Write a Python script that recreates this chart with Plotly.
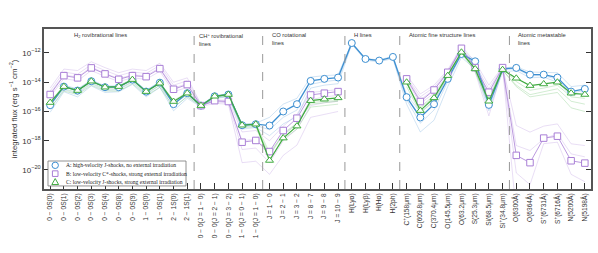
import plotly.graph_objects as go

# ---------------- data ----------------
h2_labels = ["0 − 0S(0)", "0 − 0S(1)", "0 − 0S(2)", "0 − 0S(3)", "0 − 0S(4)", "0 − 0S(8)",
             "0 − 0S(9)", "1 − 0S(0)", "1 − 0S(1)", "2 − 1S(0)", "2 − 1S(1)"]
chp_labels = ["0 − 0(J = 1 − 0)", "0 − 0(J = 2 − 1)", "0 − 0(J = 3 − 2)",
              "1 − 0(J = 0 − 1)", "1 − 0(J = 1 − 0)"]
co_labels = ["J = 1 − 0", "J = 2 − 1", "J = 3 − 2", "J = 8 − 7", "J = 9 − 8", "J = 10 − 9"]
h_labels = ["H(Lyα)", "H(Lyβ)", "H(Hα)", "H(2ph)"]
fs_labels = ["C<sup>+</sup>(158μm)", "C(609.8μm)", "C(370.4μm)", "O(145.5μm)", "O(63.2μm)",
             "S(25.3μm)", "Si(68.5μm)", "Si<sup>+</sup>(34.8μm)"]
ms_labels = ["O(6300Å)", "O(6364Å)", "S<sup>+</sup>(6731Å)", "S<sup>+</sup>(6716Å)",
             "N(5200Å)", "N(5198Å)"]

section_titles = ["H<sub>2</sub> rovibrational lines", "CH<sup>+</sup> rovibrational<br>lines",
                  "CO rotational<br>lines", "H lines", "Atomic fine structure lines",
                  "Atomic metastable<br>lines"]

N = None
# log10 of integrated flux (erg s^-1 cm^-2)
model_A = [-15.57, -14.3, -14.57, -13.93, -14.34, -14.34, -13.82, -14.64, -14.03, -15.5, -14.75,
           -15.6, -14.96, -14.84, -16.94, -16.87,
           -16.96, -16.0, -15.5, -13.91, -13.77, -13.68,
           -11.32, -12.41, -12.52, -12.27,
           -15.02, -16.41, -15.5, -13.77, -12.07, -12.57, -15.55, -13.09,
           -13.02, -13.48, -13.48, -13.68, -14.64, -14.46]
model_B = [-14.84, -13.55, -13.7, -13.02, -13.43, -13.8, -13.55, -13.62, -13.07, -14.48, -14.16,
           -15.6, -15.26, -15.32, -18.1, -17.98,
           -18.74, -17.3, -16.46, -14.87, -14.75, -14.64,
           N, N, N, N,
           -13.77, -15.32, -14.53, -13.32, -11.68, -13.0, -14.68, -13.0,
           -19.0, -19.5, -17.82, -17.69, -19.37, -19.53]
model_C = [-15.39, -14.3, -14.57, -13.93, -14.34, -14.3, -13.82, -14.64, -14.07, -15.32, -14.75,
           -15.6, -14.96, -14.84, -16.94, -16.87,
           -19.35, -17.82, -17.0, -15.26, -15.16, -15.07,
           N, N, N, N,
           -14.0, -15.94, -15.07, -13.55, -11.95, -13.09, -15.3, -13.14,
           -13.73, -14.23, -14.12, -14.0, -14.75, -14.84]

# fainter grid-model variants of each family
var_A1 = [-15.45, -14.2, -14.45, -13.85, -14.25, -14.25, -13.75, -14.55, -13.95, -15.35, -14.65,
          -15.55, -14.9, -14.8, -16.85, -16.8,
          -16.4, -15.5, -15.1, -13.65, -13.55, -13.5,
          -11.3, -12.38, -12.48, -12.22,
          -14.85, -16.05, -15.25, -13.65, -11.98, -12.45, -15.15, -13.02,
          -12.95, -13.3, -13.3, -13.35, -14.3, -14.2]
var_A2 = [-15.85, -14.5, -14.8, -14.1, -14.55, -14.5, -14.0, -14.85, -14.2, -15.75, -14.95,
          -15.65, -15.05, -14.95, -17.05, -16.95,
          -17.25, -16.4, -15.9, -14.15, -13.95, -13.85,
          -11.36, -12.45, -12.56, -12.32,
          -15.2, -16.8, -15.9, -13.95, -12.15, -12.8, -15.75, -13.15,
          -13.08, -13.55, -13.55, -13.8, -14.75, -14.55]
var_A3 = [-16.05, -14.65, -15.0, -14.25, -14.7, -14.65, -14.15, -15.0, -14.35, -15.95, -15.1,
          -15.7, -15.1, -15.0, -17.2, -17.1,
          -17.65, -16.85, -16.35, -14.4, -14.2, -14.1,
          -11.4, -12.5, -12.6, -12.38,
          -15.5, -17.4, -16.6, -14.3, -12.3, -13.1, -15.95, -13.3,
          -13.2, -13.7, -13.65, -14.0, -14.9, -14.7]

var_B1 = [-14.4, -13.1, -13.2, -12.6, -13.0, -13.35, -13.1, -13.2, -12.7, -14.0, -13.7,
          -15.5, -15.2, -15.25, -17.4, -17.3,
          -18.0, -17.0, -16.2, -14.7, -14.6, -14.5,
          N, N, N, N,
          -13.5, -14.8, -14.2, -13.15, -11.55, -12.6, -14.2, -12.95,
          -16.96, -17.41, -17.0, -16.85, -18.21, -18.33]
var_B2 = [-14.6, -13.3, -13.45, -12.8, -13.2, -13.55, -13.3, -13.4, -12.85, -14.2, -13.9,
          -15.55, -15.35, -15.4, -18.6, -18.5,
          -19.5, -18.0, -17.2, -15.6, -15.4, -15.3,
          N, N, N, N,
          -13.65, -15.0, -14.35, -13.25, -11.62, -12.8, -14.45, -12.98,
          -18.33, -18.67, -17.87, -17.53, -18.9, -19.1]
var_B3 = [-15.0, -13.75, -13.9, -13.2, -13.6, -13.95, -13.7, -13.8, -13.25, -14.65, -14.35,
          -15.65, -15.45, -15.5, -19.5, -19.4,
          -20.3, -19.0, -18.3, -16.4, -16.2, -16.0,
          N, N, N, N,
          -13.9, -15.45, -14.75, -13.45, -11.75, -13.3, -16.3, -13.05,
          -20.2, -21.0, -18.2, -18.1, -20.3, -20.8]
var_B4 = [-14.75, -13.5, -13.65, -12.95, -13.4, -13.75, -13.5, -13.55, -13.0, -14.4, -14.1,
          -15.6, -15.3, -15.35, -18.0, -17.9,
          -19.0, -17.6, -16.8, -15.2, -15.0, -14.9,
          N, N, N, N,
          -13.7, -15.2, -14.5, -13.3, -11.65, -13.0, -14.9, -13.0,
          -23.0, -23.0, -23.0, -23.0, -23.0, -23.0]

var_C1 = [-15.55, -14.45, -14.7, -14.05, -14.45, -14.45, -13.95, -14.75, -14.2, -15.5, -14.85,
          -15.62, -15.0, -14.9, -17.0, -16.95,
          -19.0, -17.5, -16.8, -15.5, -15.4, -15.3,
          N, N, N, N,
          -14.1, -15.7, -14.9, -13.5, -11.92, -12.9, -15.1, -13.1,
          -13.95, -14.55, -14.4, -14.2, -15.0, -15.1]
var_C2 = [-15.75, -14.6, -14.85, -14.2, -14.6, -14.6, -14.1, -14.9, -14.35, -15.7, -15.0,
          -15.65, -15.05, -14.95, -17.1, -17.05,
          -19.3, -17.9, -17.2, -15.7, -15.6, -15.5,
          N, N, N, N,
          -14.3, -16.1, -15.3, -13.7, -12.0, -13.3, -15.5, -13.2,
          -14.2, -14.85, -14.65, -14.45, -15.3, -15.5]
var_C3 = [-15.3, -14.25, -14.5, -13.88, -14.3, -14.28, -13.8, -14.6, -14.02, -15.25, -14.7,
          -15.58, -14.93, -14.82, -16.9, -16.85,
          -18.8, -17.6, -16.9, -15.4, -15.3, -15.25,
          N, N, N, N,
          -14.05, -15.8, -15.0, -13.6, -11.97, -13.15, -15.35, -13.15,
          -14.3, -15.0, -14.85, -14.7, -15.75, -16.0]

legend_names = ["A: high-velocity J-shocks, no external irradiation",
                "B: low-velocity C*-shocks, strong external irradiation",
                "C: low-velocity J-shocks, strong external irradiation"]

# ---------------- styling ----------------
BLUE, PURPLE, GREEN = "#3d8fd1", "#a97fd6", "#3faa3f"
BLUE_F, PURPLE_F, GREEN_F = "rgba(90,155,215,0.35)", "rgba(175,135,220,0.35)", "rgba(90,185,90,0.35)"

sections = [h2_labels, chp_labels, co_labels, h_labels, fs_labels, ms_labels]
labels = [l for s in sections for l in s]
x = list(range(len(labels)))


def flux(vals):
    return [None if v is None else 10 ** v for v in vals]


fig = go.Figure()
for vals, col in [(var_B1, PURPLE_F), (var_B2, PURPLE_F), (var_B3, PURPLE_F), (var_B4, PURPLE_F),
                  (var_A1, BLUE_F), (var_A2, BLUE_F), (var_A3, BLUE_F),
                  (var_C1, GREEN_F), (var_C2, GREEN_F), (var_C3, GREEN_F)]:
    fig.add_trace(go.Scatter(x=x, y=flux(vals), mode="lines", line=dict(color=col, width=0.8),
                             showlegend=False, hoverinfo="skip"))

for vals, col, sym, size, lw in [(model_A, BLUE, "circle", 7, 1.3),
                                 (model_B, PURPLE, "square", 6.5, 0.8),
                                 (model_C, GREEN, "triangle-up", 7, 1.2)]:
    fig.add_trace(go.Scatter(x=x, y=flux(vals), mode="lines+markers",
                             line=dict(color=col, width=lw),
                             marker=dict(symbol=sym, size=size, color="white",
                                         line=dict(color=col, width=1)),
                             showlegend=False))

# section separators and titles
shapes = []
annotations = []
start = 0
title_offsets = [2.1, 0.22, 0.5, 0.5, 0.5, 0.5]
for i, sec in enumerate(sections):
    annotations.append(dict(x=start - 0.5 + title_offsets[i], y=0.995, xref="x", yref="paper",
                            text=section_titles[i], showarrow=False, xanchor="left", yanchor="top",
                            align="left", font=dict(family="Liberation Sans", size=5.8, color="#333")))
    start += len(sec)
    if i < len(sections) - 1:
        shapes.append(dict(type="line", x0=start - 0.5, x1=start - 0.5, y0=0, y1=1, xref="x",
                           yref="paper", line=dict(color="#999", width=1, dash="dash")))

# legend box (drawn manually for compact rows)
shapes.append(dict(type="rect", xref="paper", yref="paper", x0=0.0073, x1=0.2596, y0=0.019, y1=0.175,
                   fillcolor="white", line=dict(color="#777", width=0.8), layer="above"))
rows = [0.148, 0.096, 0.044]
mx = 0.0205
shapes.append(dict(type="circle", xref="paper", yref="paper", xsizemode="pixel", ysizemode="pixel",
                   xanchor=mx, yanchor=rows[0], x0=-3.2, x1=3.2, y0=-3.2, y1=3.2,
                   line=dict(color=BLUE, width=1), layer="above"))
shapes.append(dict(type="rect", xref="paper", yref="paper", xsizemode="pixel", ysizemode="pixel",
                   xanchor=mx, yanchor=rows[1], x0=-2.8, x1=2.8, y0=-2.8, y1=2.8,
                   line=dict(color=PURPLE, width=1), layer="above"))
shapes.append(dict(type="path", xref="paper", yref="paper", xsizemode="pixel", ysizemode="pixel",
                   xanchor=mx, yanchor=rows[2], path="M -3.4,-2.6 L 3.4,-2.6 L 0,3.4 Z",
                   line=dict(color=GREEN, width=1), layer="above"))
for r, name in zip(rows, legend_names):
    annotations.append(dict(x=0.037, y=r, xref="paper", yref="paper", text=name, showarrow=False,
                            xanchor="left", yanchor="middle",
                            font=dict(family="Liberation Serif", size=5.6, color="#222")))

ytick_exp = [-20, -18, -16, -14, -12]
fig.update_layout(
    width=598, height=253, margin=dict(l=44, r=7, t=29, b=64),
    plot_bgcolor="white", paper_bgcolor="white", showlegend=False,
    shapes=shapes, annotations=annotations,
    xaxis=dict(range=[-0.45, len(labels) - 0.55], tickvals=x, ticktext=labels, tickangle=-90,
               ticks="inside", ticklen=6, tickcolor="#333", showgrid=False, zeroline=False,
               showline=True, linecolor="#555", linewidth=1.5, mirror=True, automargin=False,
               tickfont=dict(family="Liberation Sans", size=6.6, color="#333")),
    yaxis=dict(type="log", range=[-21.3, -10.36], tickvals=[10 ** e for e in ytick_exp],
               ticktext=["10<sup>−%d</sup>" % -e for e in ytick_exp],
               ticks="inside", ticklen=5, tickcolor="#333", showgrid=False, zeroline=False,
               showline=True, linecolor="#555", linewidth=1.5, mirror="ticks", automargin=False,
               tickfont=dict(family="Liberation Sans", size=8, color="#333"),
               title=dict(text="integrated flux (erg s<sup>−1</sup> cm<sup>−2</sup>)", standoff=4,
                          font=dict(family="Liberation Sans", size=7.8, color="#333"))),
)
fig.write_html("out.html", config={"displayModeBar": False},
               post_script="document.body.style.margin='0px';")
